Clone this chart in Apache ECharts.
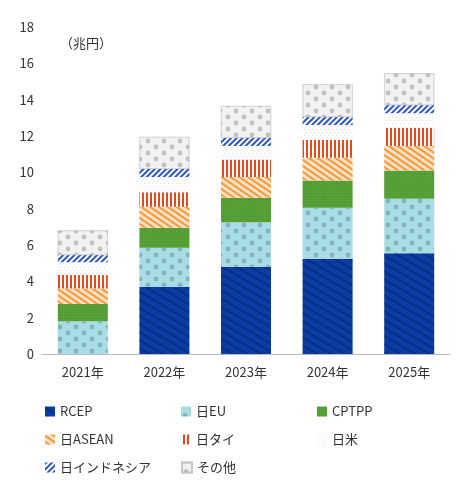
<html>
<head>
<meta charset="utf-8">
<script src="https://cdn.jsdelivr.net/npm/echarts@6/dist/echarts.min.js"></script>
<style>html,body,#main{margin:0;padding:0;width:460px;height:493px;background:#fff;}</style>
</head>
<body>
<div id="main"></div>
<script>
var years = ['2021年', '2022年', '2023年', '2024年', '2025年'];
var names = ['RCEP', '日EU', 'CPTPP', '日ASEAN', '日タイ', '日米', '日インドネシア', 'その他'];
var rcep = [0, 3.7, 4.8, 5.25, 5.55];
var eu = [1.8, 2.15, 2.45, 2.8, 3.0];
var cptpp = [0.95, 1.1, 1.35, 1.5, 1.55];
var asean = [0.85, 1.15, 1.15, 1.25, 1.35];
var thai = [0.75, 0.8, 0.95, 1.0, 1.0];
var us = [0.7, 0.85, 0.75, 0.8, 0.8];
var indo = [0.4, 0.45, 0.45, 0.45, 0.45];
var other = [1.35, 1.75, 1.75, 1.8, 1.75];
var values = [rcep, eu, cptpp, asean, thai, us, indo, other];

var styles = [
    {color: '#0a3ca3'},
    {color: '#a9dde5'},
    {color: '#5aa43a', decal: {symbol: 'circle', symbolSize: 0.5, color: 'rgba(0,80,0,0.6)', dashArrayX: [[2, 2], [0, 2, 2, 0]], dashArrayY: [2, 0]}},
    {color: '#fde1c2', decal: {symbol: 'rect', color: '#f29a3a', dashArrayX: [1, 0], dashArrayY: [2, 3], rotation: 0.6}},
    {color: '#fff', decal: {symbol: 'rect', color: '#e8491b', dashArrayX: [1, 0], dashArrayY: [2, 2], rotation: Math.PI / 2}},
    {color: '#fff', decal: {symbol: 'circle', symbolSize: 0.6, color: '#777', dashArrayX: [[1, 3], [0, 2, 1, 1]], dashArrayY: [1, 2]}},
    {color: '#fff', decal: {symbol: 'rect', color: '#2b56c2', dashArrayX: [1, 0], dashArrayY: [2, 2], rotation: -Math.PI / 4}},
    {color: '#f2f2f2', borderColor: '#c8c8c8', borderWidth: 0.5}
];

var series = names.map(function (n, i) {
    return {
        name: n, type: 'bar', stack: 'all', barWidth: 50,
        data: values[i],
        itemStyle: styles[i]
    };
});

var legends = names.map(function (n, i) {
    return {
        data: [n], left: 40 + (i % 3) * 136, top: 400 + Math.floor(i / 3) * 28,
        itemWidth: 10, itemHeight: 10, icon: 'rect',
        textStyle: {fontSize: 13, color: '#333', fontFamily: 'Noto Sans CJK JP'}
    };
});

var chart = echarts.init(document.getElementById('main'), null, {renderer: 'canvas'});
chart.setOption({
    animation: false,
    aria: {decal: {show: true}},
    legend: legends,
    grid: {left: 42, right: 10, top: 27, bottom: 139},
    graphic: [{type: 'text', left: 60, top: 37, style: {text: '（兆円）', fontSize: 13, fill: '#333', fontFamily: 'Noto Sans CJK JP'}}],
    xAxis: {
        type: 'category', data: years,
        axisTick: {show: false},
        axisLine: {lineStyle: {color: '#bbb'}},
        axisLabel: {color: '#333', fontSize: 13, margin: 12, fontFamily: 'Noto Sans CJK JP'}
    },
    yAxis: {
        type: 'value', min: 0, max: 18, interval: 2,
        splitLine: {show: false},
        axisLine: {show: false},
        axisLabel: {color: '#333', fontSize: 13, fontFamily: 'Noto Sans CJK JP'}
    },
    series: series
});
</script>
</body>
</html>
